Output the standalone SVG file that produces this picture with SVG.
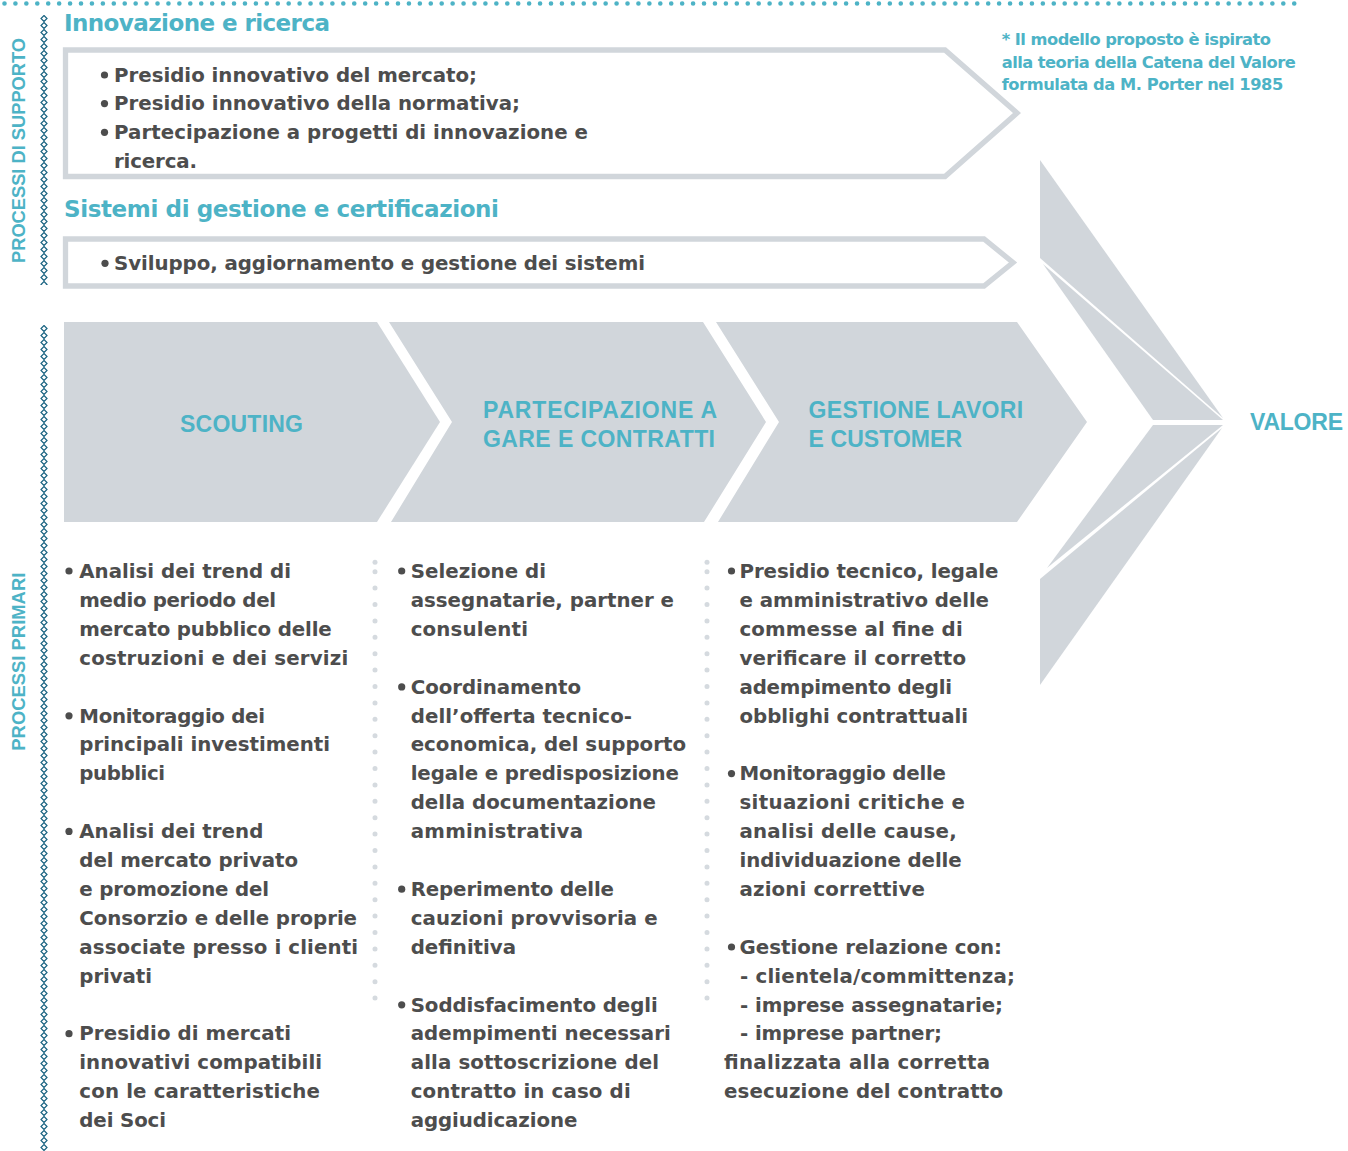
<svg xmlns="http://www.w3.org/2000/svg" width="1348" height="1151" viewBox="0 0 1348 1151">
<defs>
<style>
.teal{fill:#4db3c6;font-family:"Liberation Sans",Arial,sans-serif;font-weight:bold}
.head{fill:#4db3c6;font-family:"DejaVu Sans","Liberation Sans",sans-serif;font-weight:bold;font-size:23px}
.note{fill:#4db3c6;font-family:"DejaVu Sans","Liberation Sans",sans-serif;font-weight:bold;font-size:16.3px}
.body{fill:#4d4d4d;font-family:"DejaVu Sans","Liberation Sans",sans-serif;font-weight:bold;font-size:19.8px}
.box{fill:#ffffff;stroke:#d1d6db;stroke-width:5.3}
.chev{fill:#d1d6db}
.bul{fill:#4d4d4d}
.sep{stroke:#d5dadf;stroke-width:5;stroke-linecap:round;stroke-dasharray:0 16.4;fill:none}
</style>
<pattern id="chain" x="39" y="15" width="10" height="7" patternUnits="userSpaceOnUse">
<path d="M5,0.5 L8,3.5 L5,6.5 L2,3.5 Z" fill="#ffffff" stroke="#1a6482" stroke-width="1.2"/>
</pattern>
<pattern id="chain2" x="39" y="325" width="10" height="7" patternUnits="userSpaceOnUse">
<path d="M5,0.5 L8,3.5 L5,6.5 L2,3.5 Z" fill="#ffffff" stroke="#1a6482" stroke-width="1.2"/>
</pattern>
</defs>
<rect width="1348" height="1151" fill="#ffffff"/>

<g id="decor">
<line x1="4.5" y1="3.5" x2="1296" y2="3.5" stroke="#4db3c6" stroke-width="4.6" stroke-linecap="round" stroke-dasharray="0 10.93"/>
<rect x="39" y="15" width="10" height="270" fill="url(#chain)"/>
<rect x="39" y="325" width="10" height="826" fill="url(#chain2)"/>
<text class="teal" font-size="18.5" transform="translate(25,263) rotate(-90)" textLength="225" lengthAdjust="spacingAndGlyphs">PROCESSI DI SUPPORTO</text>
<text class="teal" font-size="18.5" transform="translate(25,750.7) rotate(-90)" textLength="178" lengthAdjust="spacingAndGlyphs">PROCESSI PRIMARI</text>
<circle cx="375" cy="562.3" r="2.5" fill="#d5dadf"/>
<line class="sep" x1="375" y1="571.7" x2="375" y2="999"/>
<circle cx="707" cy="562.3" r="2.5" fill="#d5dadf"/>
<line class="sep" x1="707" y1="571.7" x2="707" y2="999"/>
</g>

<g id="note">
<text class="note" x="1001.7" y="45" textLength="269.3">* Il modello proposto è ispirato</text>
<text class="note" x="1001.7" y="67.7" textLength="294">alla teoria della Catena del Valore</text>
<text class="note" x="1001.7" y="90" textLength="281.6">formulata da M. Porter nel 1985</text>
</g>

<g id="innovazione">
<text class="head" x="64" y="30.7" textLength="266">Innovazione e ricerca</text>
<path class="box" d="M65.5,50 L945,50 L1017,113 L945,176.5 L65.5,176.5 Z"/>
<circle class="bul" cx="104.5" cy="75" r="3.6"/>
<text class="body" x="114" y="81.7" textLength="363">Presidio innovativo del mercato;</text>
<circle class="bul" cx="104.5" cy="103.6" r="3.6"/>
<text class="body" x="114" y="110.3" textLength="406">Presidio innovativo della normativa;</text>
<circle class="bul" cx="104.5" cy="132.3" r="3.6"/>
<text class="body" x="114" y="139" textLength="474">Partecipazione a progetti di innovazione e</text>
<text class="body" x="114" y="167.5" textLength="83">ricerca.</text>
</g>

<g id="sistemi">
<text class="head" x="64" y="216.7" textLength="435">Sistemi di gestione e certificazioni</text>
<path class="box" d="M65.5,239 L984,239 L1013,262.5 L984,286 L65.5,286 Z"/>
<circle class="bul" cx="105" cy="263.3" r="3.6"/>
<text class="body" x="114" y="270" textLength="531">Sviluppo, aggiornamento e gestione dei sistemi</text>
</g>

<g id="scouting">
<polygon class="chev" points="64,322 377,322 440,422 377,522 64,522"/>
<text class="teal" font-size="23" x="180" y="432.3" textLength="123">SCOUTING</text>
</g>

<g id="partecipazione">
<polygon class="chev" points="389,322 703,322 766,422 704,522 391,522 452,422"/>
<text class="teal" font-size="23" x="483" y="418.3" textLength="234">PARTECIPAZIONE A</text>
<text class="teal" font-size="23" x="483" y="446.7" textLength="232">GARE E CONTRATTI</text>
</g>

<g id="gestione">
<polygon class="chev" points="716,322 1017,322 1087,422 1017,522 718,522 779,422"/>
<text class="teal" font-size="23" x="808.6" y="418.3" textLength="214.5">GESTIONE LAVORI</text>
<text class="teal" font-size="23" x="808.6" y="446.7" textLength="153.5">E CUSTOMER</text>
</g>

<g id="valore">
<polygon class="chev" points="1040,160 1223,418 1040,258"/>
<polygon class="chev" points="1043,264 1223,420 1153,420"/>
<polygon class="chev" points="1047,568 1223,425 1153,425"/>
<polygon class="chev" points="1040,685 1222,428 1040,579"/>
<text class="teal" font-size="23" x="1250" y="429.6" textLength="93">VALORE</text>
</g>

<g id="col-scouting">
<circle class="bul" cx="69" cy="571" r="3.6"/>
<text class="body" x="79.3" y="578" textLength="211.7">Analisi dei trend di</text>
<text class="body" x="79.3" y="606.9" textLength="196.7">medio periodo del</text>
<text class="body" x="79.3" y="635.8" textLength="252.4">mercato pubblico delle</text>
<text class="body" x="79.3" y="664.7" textLength="269">costruzioni e dei servizi</text>
<circle class="bul" cx="69" cy="715.8" r="3.6"/>
<text class="body" x="79.3" y="722.5" textLength="185.7">Monitoraggio dei</text>
<text class="body" x="79.3" y="751.4" textLength="250.7">principali investimenti</text>
<text class="body" x="79.3" y="780.3" textLength="85.7">pubblici</text>
<circle class="bul" cx="69" cy="831.4" r="3.6"/>
<text class="body" x="79.3" y="838.1" textLength="184">Analisi dei trend</text>
<text class="body" x="79.3" y="867" textLength="218.7">del mercato privato</text>
<text class="body" x="79.3" y="895.9" textLength="189.7">e promozione del</text>
<text class="body" x="79.3" y="924.8" textLength="277.7">Consorzio e delle proprie</text>
<text class="body" x="79.3" y="953.7" textLength="278.7">associate presso i clienti</text>
<text class="body" x="79.3" y="982.6" textLength="72.7">privati</text>
<circle class="bul" cx="69" cy="1033.7" r="3.6"/>
<text class="body" x="79.3" y="1040.4" textLength="211.7">Presidio di mercati</text>
<text class="body" x="79.3" y="1069.3" textLength="242.7">innovativi compatibili</text>
<text class="body" x="79.3" y="1098.2" textLength="240.7">con le caratteristiche</text>
<text class="body" x="79.3" y="1127.1" textLength="86.7">dei Soci</text>
</g>

<g id="col-partecipazione">
<circle class="bul" cx="401.7" cy="571" r="3.6"/>
<text class="body" x="410.7" y="578" textLength="135.3">Selezione di</text>
<text class="body" x="410.7" y="606.9" textLength="263.3">assegnatarie, partner e</text>
<text class="body" x="410.7" y="635.8" textLength="117.3">consulenti</text>
<circle class="bul" cx="401.7" cy="686.9" r="3.6"/>
<text class="body" x="410.7" y="693.6" textLength="170.3">Coordinamento</text>
<text class="body" x="410.7" y="722.5" textLength="221.3">dell’offerta tecnico-</text>
<text class="body" x="410.7" y="751.4" textLength="275.3">economica, del supporto</text>
<text class="body" x="410.7" y="780.3" textLength="268.3">legale e predisposizione</text>
<text class="body" x="410.7" y="809.2" textLength="245.3">della documentazione</text>
<text class="body" x="410.7" y="838.1" textLength="172.3">amministrativa</text>
<circle class="bul" cx="401.7" cy="889.2" r="3.6"/>
<text class="body" x="410.7" y="895.9" textLength="203.3">Reperimento delle</text>
<text class="body" x="410.7" y="924.8" textLength="247">cauzioni provvisoria e</text>
<text class="body" x="410.7" y="953.7" textLength="105.3">definitiva</text>
<circle class="bul" cx="401.7" cy="1004.8" r="3.6"/>
<text class="body" x="410.7" y="1011.5" textLength="247">Soddisfacimento degli</text>
<text class="body" x="410.7" y="1040.4" textLength="260">adempimenti necessari</text>
<text class="body" x="410.7" y="1069.3" textLength="248.3">alla sottoscrizione del</text>
<text class="body" x="410.7" y="1098.2" textLength="220">contratto in caso di</text>
<text class="body" x="410.7" y="1127.1" textLength="166.6">aggiudicazione</text>
</g>

<g id="col-gestione">
<circle class="bul" cx="731.5" cy="571" r="3.6"/>
<text class="body" x="739.5" y="578" textLength="258.8">Presidio tecnico, legale</text>
<text class="body" x="739.5" y="606.9" textLength="249.5">e amministrativo delle</text>
<text class="body" x="739.5" y="635.8" textLength="223.2">commesse al fine di</text>
<text class="body" x="739.5" y="664.7" textLength="226.5">verificare il corretto</text>
<text class="body" x="739.5" y="693.6" textLength="212.5">adempimento degli</text>
<text class="body" x="739.5" y="722.5" textLength="228.5">obblighi contrattuali</text>
<circle class="bul" cx="731.5" cy="773.6" r="3.6"/>
<text class="body" x="739.5" y="780.3" textLength="206.5">Monitoraggio delle</text>
<text class="body" x="739.5" y="809.2" textLength="225.5">situazioni critiche e</text>
<text class="body" x="739.5" y="838.1" textLength="217.2">analisi delle cause,</text>
<text class="body" x="739.5" y="867" textLength="222.2">individuazione delle</text>
<text class="body" x="739.5" y="895.9" textLength="185.5">azioni correttive</text>
<circle class="bul" cx="731.5" cy="947" r="3.6"/>
<text class="body" x="739.5" y="953.7" textLength="262.5">Gestione relazione con:</text>
<text class="body" x="740" y="982.6" textLength="275">- clientela/committenza;</text>
<text class="body" x="740" y="1011.5" textLength="263">- imprese assegnatarie;</text>
<text class="body" x="740" y="1040.4" textLength="202">- imprese partner;</text>
<text class="body" x="724" y="1069.3" textLength="266">finalizzata alla corretta</text>
<text class="body" x="724" y="1098.2" textLength="279">esecuzione del contratto</text>
</g>
</svg>
